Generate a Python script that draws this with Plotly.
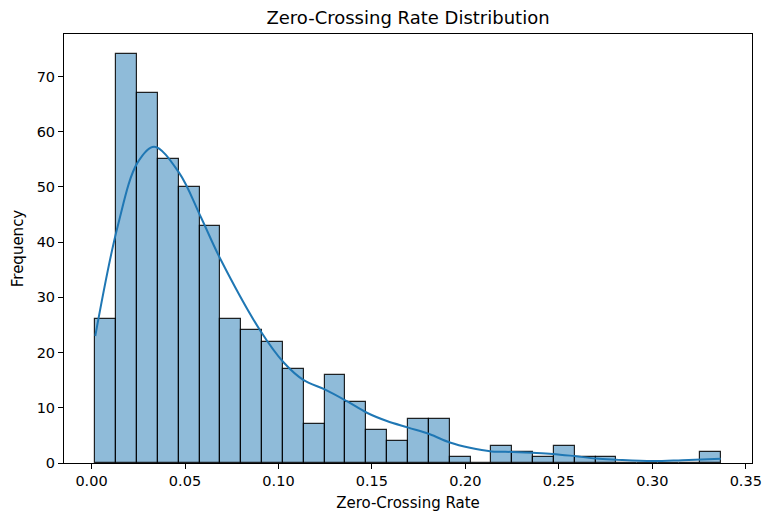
import plotly.graph_objects as go

# Histogram of zero-crossing rates: 30 equal-width bins
bin_start = 0.0020
bin_width = 0.011153
counts = [26, 74, 67, 55, 50, 43, 26, 24, 22, 17,
          7, 16, 11, 6, 4, 8, 8, 1, 0, 3,
          2, 1, 3, 1, 1, 0, 0, 0, 0, 2]

# Kernel density estimate, scaled to counts
kde_x = [0.002, 0.014, 0.0246, 0.0335, 0.0468, 0.0584, 0.069, 0.0904,
         0.1028, 0.1135, 0.125, 0.1366, 0.1473, 0.158, 0.1695, 0.181,
         0.1917, 0.2024, 0.214, 0.2255, 0.236, 0.2467, 0.2584, 0.27,
         0.2806, 0.300, 0.316, 0.3366]
kde_y = [23.0, 42.9, 54.4, 57.3, 52.6, 44.6, 36.9, 23.9,
         18.2, 15.0, 13.3, 11.2, 9.1, 7.6, 6.4, 5.2,
         3.7, 2.75, 2.1, 2.0, 1.85, 1.65, 1.25, 0.8,
         0.6, 0.35, 0.5, 0.75]

x_ticks = [0.00, 0.05, 0.10, 0.15, 0.20, 0.25, 0.30, 0.35]
y_ticks = [0, 10, 20, 30, 40, 50, 60, 70]

centers = [bin_start + (i + 0.5) * bin_width for i in range(len(counts))]
x_lo = bin_start - 0.05 * bin_width * len(counts)
x_hi = bin_start + bin_width * len(counts) * 1.05

fig = go.Figure()
fig.add_trace(go.Bar(
    x=centers, y=counts, width=bin_width,
    marker=dict(color="rgba(31,119,180,0.5)",
                line=dict(color="rgba(0,0,0,0.85)", width=1.2)),
    hoverinfo="x+y",
))
fig.add_trace(go.Scatter(
    x=kde_x, y=kde_y, mode="lines", line_shape="spline",
    line=dict(color="#1f77b4", width=2),
))

font = "DejaVu Sans"
fig.update_layout(
    width=764, height=516,
    margin=dict(l=64, r=12, t=34, b=53, autoexpand=False),
    paper_bgcolor="white", plot_bgcolor="white",
    showlegend=False, bargap=0,
    font=dict(family=font, size=14.5, color="black"),
    title=dict(text="Zero-Crossing Rate Distribution",
               x=0.5, xref="paper", xanchor="center",
               y=1 - 18 / 516, yref="container", yanchor="middle",
               font=dict(family=font, size=18, color="black")),
)
fig.update_xaxes(
    range=[x_lo, x_hi], tickvals=x_ticks, tickformat=".2f",
    showgrid=False, zeroline=False, automargin=False,
    showline=True, mirror=True, linecolor="black", linewidth=1,
    ticks="outside", ticklen=5, tickcolor="black",
    title=dict(text="Zero-Crossing Rate", standoff=9,
               font=dict(family=font, size=15)),
)
fig.update_yaxes(
    range=[0, 77.7], tickvals=y_ticks,
    showgrid=False, zeroline=False, automargin=False,
    showline=True, mirror=True, linecolor="black", linewidth=1,
    ticks="outside", ticklen=5, tickcolor="black",
    title=dict(text="Frequency", standoff=9,
               font=dict(family=font, size=15)),
)

fig.write_html("out.html")
